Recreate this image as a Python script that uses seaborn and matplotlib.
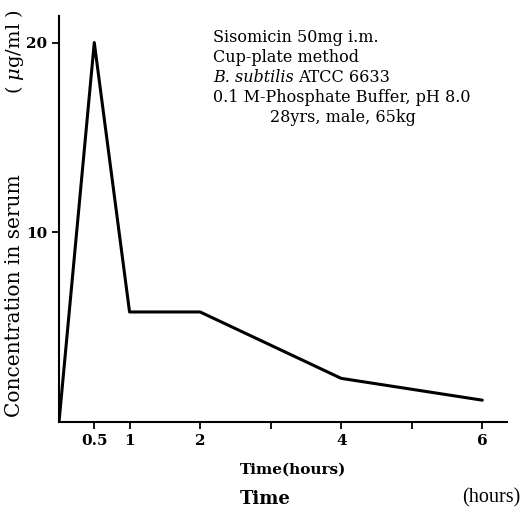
import matplotlib
matplotlib.use("Agg")
import numpy as np
import pandas as pd
import matplotlib.pyplot as plt
import seaborn as sns

# data
time_h = [0, 0.5, 1, 2, 4, 6]
conc = [0, 20.0, 5.8, 5.8, 2.3, 1.15]
xtick_pos = [0.5, 1, 2, 3, 4, 5, 6]
xtick_lab = ["0.5", "1", "2", "", "4", "", "6"]
ytick_pos = [10, 20]
note_lines = ["Sisomicin 50mg i.m.", "Cup-plate method", None,
              "0.1 M-Phosphate Buffer, pH 8.0"]

sns.set_theme(style="ticks")
plt.rcParams["font.family"] = ["DejaVu Serif"]
plt.rcParams["mathtext.fontset"] = "dejavuserif"
plt.rcParams["text.color"] = "black"

W, H = 521, 512
fig = plt.figure(figsize=(W / 100, H / 100), dpi=100)
ax = fig.add_axes([59 / W, 1 - 422 / H, (507 - 59) / W, (422 - 16) / H])

df = pd.DataFrame({"t": time_h, "c": conc})
sns.lineplot(data=df, x="t", y="c", ax=ax, color="black", lw=2.2)

ax.set_xlim(0, 6.35)
ax.set_ylim(0, 21.4)
sns.despine(ax=ax)
for s in ["left", "bottom"]:
    ax.spines[s].set_color("black")
    ax.spines[s].set_linewidth(1.5)
ax.set_xticks(xtick_pos)
ax.set_xticklabels(xtick_lab, fontsize=11, fontweight="bold")
ax.set_yticks(ytick_pos)
ax.set_yticklabels([str(v) for v in ytick_pos], fontsize=11, fontweight="bold")
ax.tick_params(axis="both", direction="out", length=5, width=1.3,
               colors="black", labelcolor="black")
ax.set_xlabel("")
ax.set_ylabel("")

def px(x, y):
    return x / W, 1 - y / H

# annotation block
fs = 11.5
ys = [38, 58, 78, 98]
for line, y in zip(note_lines, ys):
    if line:
        fig.text(*px(213, y), line, fontsize=fs, va="center", ha="left")
fig.text(*px(213, 78), "B. subtilis", fontsize=fs, style="italic", va="center")
fig.text(*px(298, 78), "ATCC 6633", fontsize=fs, va="center")
fig.text(*px(270, 118), "28yrs, male, 65kg", fontsize=fs, va="center")

# axis labels
fig.text(*px(15, 296), "Concentration in serum", rotation=90, fontsize=14.5,
         ha="center", va="center")
fig.text(*px(15, 52), "( $\\mu$g/ml )", rotation=90, fontsize=14,
         ha="center", va="center")
fig.text(*px(240, 470), "Time(hours)", fontsize=11, fontweight="bold",
         ha="left", va="center")
fig.text(*px(240, 499), "Time", fontsize=13, fontweight="bold",
         ha="left", va="center")
fig.text(*px(520, 498), "(hours)", fontsize=14.5,
         family="Liberation Serif", ha="right", va="center")

fig.savefig("out.png", dpi=100)
